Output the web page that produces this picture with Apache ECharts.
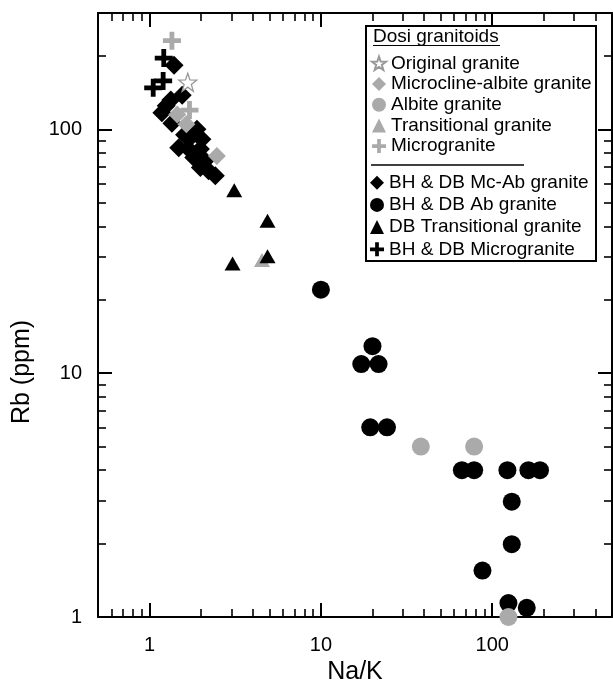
<!DOCTYPE html>
<html><head><meta charset="utf-8">
<script src="https://cdn.jsdelivr.net/npm/echarts@6/dist/echarts.min.js"></script>
<style>html,body{margin:0;padding:0;background:#fff}#c{width:613px;height:683px}</style>
</head><body><div id="c"></div>
<script>
// ---- tick values ----
const xMajorLabels = [1, 10, 100];
const yMajorLabels = [1, 10, 100];
const xMinorTicks = [0.6,0.7,0.8,0.9,2,3,4,5,6,7,8,9,20,30,40,50,60,70,80,90,200,300,400];
const yMinorTicks = [2,3,4,5,6,7,8,9,20,30,40,50,60,70,80,90,200];

// ---- legend names ----
const dosiNames = ['Original granite','Microcline-albite granite','Albite granite','Transitional granite','Microgranite'];
const bhdbNames = ['BH & DB Mc-Ab granite','BH & DB Ab granite','DB Transitional granite','BH & DB Microgranite'];

// ---- data [Na/K, Rb] ----
const bhdbMcAb = [[1.39,183],[1.55,138],[1.33,132],[1.18,117],[1.35,106],[1.25,125],[1.60,95],[1.89,100],[1.73,92.5],[2.02,91],[1.48,84],[1.69,83],[1.98,83],[1.81,76.6],[2.11,74.3],[1.98,69.7],[2.21,67.6],[2.42,64.5]];
const bhdbAb = [[10.0,22],[20.0,12.9],[17.2,10.9],[21.7,10.9],[19.4,6.0],[24.3,6.0],[66.5,4.0],[78.4,4.0],[122.6,4.0],[162.6,4.0],[190,4.0],[130,2.97],[130,1.99],[87.7,1.55],[124.3,1.14],[159,1.09]];
const dbTransitional = [[3.12,56.2],[4.88,42.2],[4.88,30.2],[3.05,28.2]];
const bhdbMicro = [[1.21,196],[1.05,148],[1.20,158]];
const dosiOriginal = [[1.67,156]];
const dosiMcAb = [[1.45,115],[1.64,105],[2.47,77.8]];
const dosiAlbite = [[38.3,5.0],[78.4,5.0],[124.3,1.0]];
const dosiTransitional = [[4.53,29.1]];
const dosiMicro = [[1.35,231],[1.71,120]];

const FONT = '"Liberation Sans", Arial, Helvetica, sans-serif';
const GRAY = '#aaaaaa';
const PLUS = 'path://M2.2,0H3.8V2.2H6V3.8H3.8V6H2.2V3.8H0V2.2H2.2Z';
const STAR = 'path://M0,-10L2.351,-3.236L9.511,-3.09L3.804,1.236L5.878,8.09L0,4L-5.878,8.09L-3.804,1.236L-9.511,-3.09L-2.351,-3.236Z';

const X_MIN = 0.5, X_MAX = 500, Y_MIN = 1, Y_MAX = 300;
const TICK_COLOR = '#000';

function near(v, arr){ return arr.some(a => Math.abs(v - a) / a < 1e-6); }

function mainAxis(pos, isX, showLabels) {
  return {
    type: 'log', logBase: 10, position: pos,
    min: isX ? X_MIN : Y_MIN, max: isX ? X_MAX : Y_MAX,
    axisLine: {show: true, onZero: false, lineStyle: {color: '#000', width: 2}},
    axisTick: {show: true, inside: true, length: 14, lineStyle: {color: TICK_COLOR, width: 2}},
    axisLabel: {
      show: showLabels, fontSize: 20, fontFamily: FONT, color: '#000', margin: isX ? 18 : 16,
      showMinLabel: isX ? false : true, showMaxLabel: false,
      formatter: v => near(v, isX ? xMajorLabels : yMajorLabels) ? String(Math.round(v)) : ''
    },
    splitLine: {show: false},
    minorTick: {show: false}
  };
}
function tickAxis(pos, isX, values, len) {
  return {
    type: 'value', position: pos,
    min: Math.log10(isX ? X_MIN : Y_MIN), max: Math.log10(isX ? X_MAX : Y_MAX),
    axisLine: {show: false, onZero: false},
    axisTick: {show: true, inside: true, length: len, customValues: values.map(v => Math.log10(v)),
               lineStyle: {color: '#000', width: 1.6}},
    axisLabel: {show: false},
    splitLine: {show: false}
  };
}

const xAxes = [
  mainAxis('bottom', true, true), mainAxis('top', true, false),
  tickAxis('bottom', true, xMinorTicks, 8), tickAxis('top', true, xMinorTicks, 8)
];
xAxes[0].name = 'Na/K'; xAxes[0].nameLocation = 'middle'; xAxes[0].nameGap = 42;
xAxes[0].nameTextStyle = {fontSize: 25, fontFamily: FONT, color: '#000'};
const yAxes = [
  mainAxis('left', false, true), mainAxis('right', false, false),
  tickAxis('left', false, yMinorTicks, 8), tickAxis('right', false, yMinorTicks, 8)
];

function sc(name, data, symbol, size, itemStyle, z) {
  return {type: 'scatter', name, data, symbol, symbolSize: size,
          itemStyle: Object.assign({opacity: 1}, itemStyle), z: z || 2,
          xAxisIndex: 0, yAxisIndex: 0, emphasis: {disabled: true}, clip: false};
}

const series = [
  sc(bhdbNames[0], bhdbMcAb, 'diamond', 19, {color: '#000'}),
  sc(bhdbNames[1], bhdbAb, 'circle', 18, {color: '#000'}),
  sc(bhdbNames[3], bhdbMicro, PLUS, 18, {color: '#000'}),
  sc(dosiNames[0], dosiOriginal, STAR, 18, {color: '#fff', borderColor: '#999', borderWidth: 1.3}, 3),
  sc(dosiNames[1], dosiMcAb, 'diamond', 18, {color: GRAY}, 3),
  sc(dosiNames[2], dosiAlbite, 'circle', 18, {color: GRAY}, 3),
  sc(dosiNames[3], dosiTransitional, 'triangle', [16, 14], {color: GRAY}, 3),
  sc(dosiNames[4], dosiMicro, PLUS, 18, {color: GRAY}, 3),
  sc(bhdbNames[2], dbTransitional, 'triangle', [16, 14], {color: '#000'}, 4)
];

const legendBase = {
  orient: 'vertical', itemWidth: 14, itemHeight: 14, selectedMode: false,
  textStyle: {fontSize: 19, fontFamily: FONT, color: '#000', lineHeight: 20},
  padding: 0, z: 10
};

const staticGraphic = [
  {type: 'text', z: 6, x: 22, y: 372, rotation: Math.PI / 2,
   style: {text: 'Rb (ppm)', fontSize: 25, fontFamily: FONT, fill: '#000', align: 'center', verticalAlign: 'middle'}},
  {type: 'rect', z: 5, shape: {x: 366, y: 26, width: 230, height: 235}, style: {fill: '#fff', stroke: '#000', lineWidth: 2}},
  {type: 'text', z: 6, x: 373, y: 36.7, style: {text: 'Dosi granitoids', fontSize: 19, fontFamily: FONT, fill: '#000', align: 'left', verticalAlign: 'middle'}},
  {type: 'line', z: 6, shape: {x1: 373, y1: 45.5, x2: 500, y2: 45.5}, style: {stroke: '#000', lineWidth: 1.2}},
  {type: 'line', z: 6, shape: {x1: 371, y1: 165, x2: 524, y2: 165}, style: {stroke: '#000', lineWidth: 1.5}}
];

const chart = echarts.init(document.getElementById('c'), null, {renderer: 'canvas'});
chart.setOption({
  animation: false,
  backgroundColor: '#fff',
  grid: {left: 98, right: 1, top: 13, bottom: 66, outerBoundsMode: 'none', containLabel: false},
  xAxis: xAxes,
  yAxis: yAxes,
  legend: [
    Object.assign({}, legendBase, {data: dosiNames, left: 371, top: 53.3, itemGap: 0.7}),
    Object.assign({}, legendBase, {data: bhdbNames, left: 370, top: 172.7, itemGap: 2.2})
  ],
  graphic: staticGraphic,
  series
});
</script></body></html>
